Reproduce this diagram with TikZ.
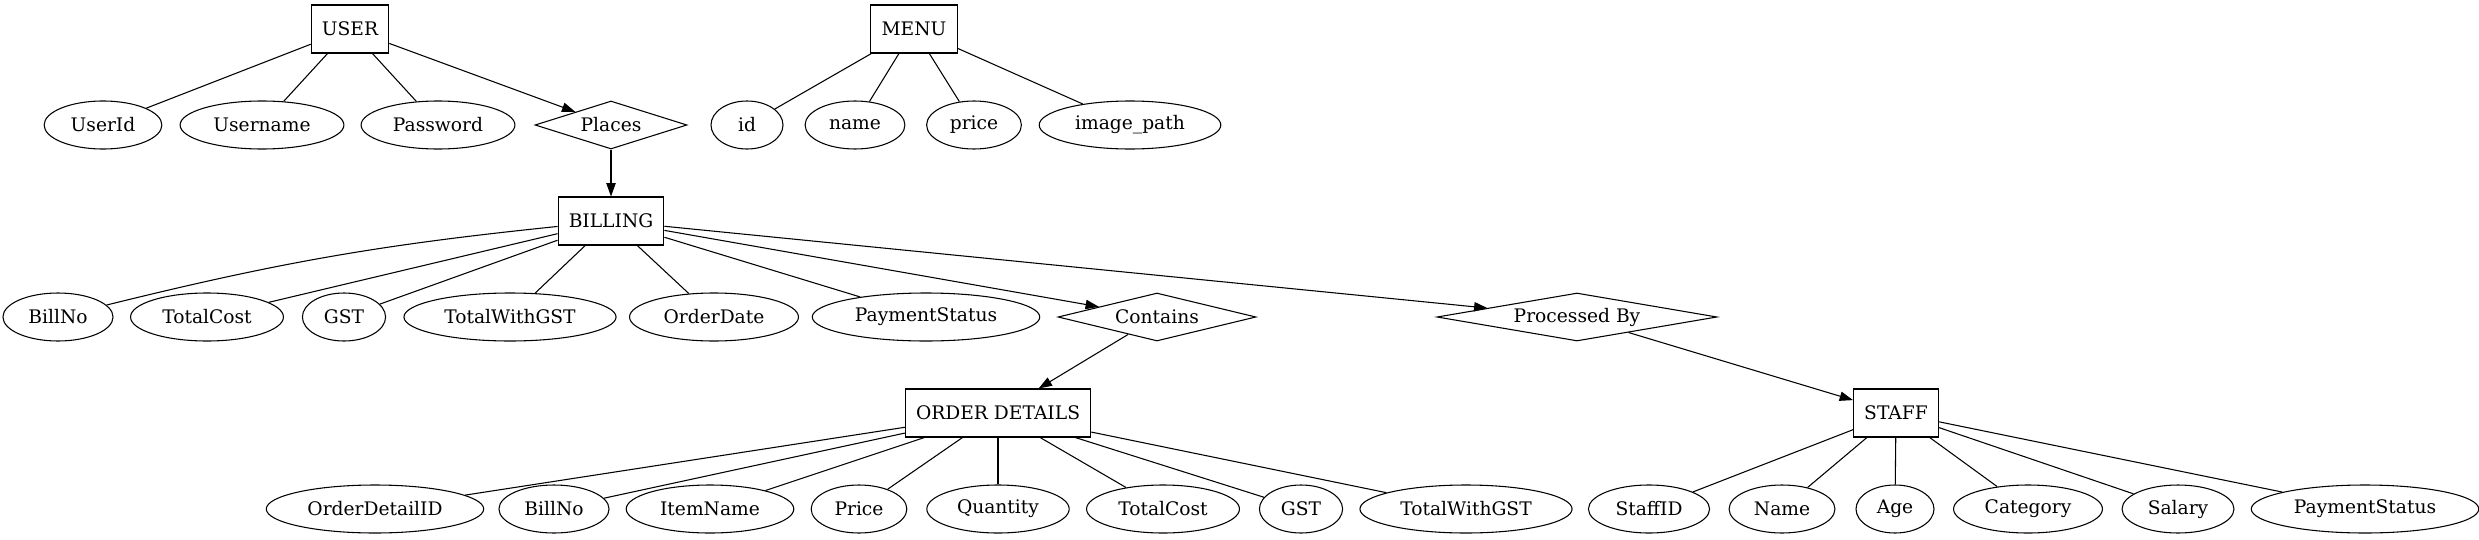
\documentclass[tikz,border=0pt]{standalone}
\usepackage{fontspec}
\setmainfont{DejaVu Serif}
\usetikzlibrary{shapes.geometric,arrows.meta}
\newcommand{\entity}{\node[entitybox]}
\newcommand{\attrib}{\node[attribute]}
\newcommand{\relship}{\node[relation]}
\tikzset{
  entitybox/.style={shape=rectangle, draw=black, minimum width=54pt, minimum height=36pt, inner xsep=8pt},
  attribute/.style={shape=ellipse, draw=black, minimum width=54pt, minimum height=36pt, inner xsep=7pt, inner ysep=2pt},
  relation/.style={shape=diamond, draw=black, minimum height=36pt, inner sep=0pt},
  reltip/.style={-{Triangle[length=10pt,width=7pt]}}
}

\begin{document}
\begin{tikzpicture}[x=0.75pt, y=-0.75pt, line width=0.8pt, font=\fontsize{14}{17}\selectfont]
					\useasboundingbox (0,0) rectangle (2479,539);
					% entities
					\entity (user) at (350,29) {USER};
					\entity (menu) at (914,29) {MENU};
					\entity (billing) at (611,221) {BILLING};
					\entity (orderdet) at (998,413) {ORDER DETAILS};
					\entity (staff) at (1896,413) {STAFF};
					% relationships
					\relship[minimum width=114pt, aspect=3.17] (places) at (611,125) {Places};
					\relship[minimum width=148.5pt, aspect=4.12] (contains) at (1157,317) {Contains};
					\relship[minimum width=210pt, aspect=5.83] (procby) at (1577,317) {Processed By};
					% user attributes
					\attrib (userid) at (103,125) {UserId};
					\attrib (username) at (262,125) {Username};
					\attrib (password) at (438,125) {Password};
					% menu attributes
					\attrib (mid) at (747,125) {id};
					\attrib (mname) at (855,125) {name};
					\attrib (mprice) at (974,125) {price};
					\attrib (mimage) at (1130,125) {image\_path};
					% billing attributes
					\attrib (bbillno) at (58,317) {BillNo};
					\attrib (btotal) at (207,317) {TotalCost};
					\attrib (bgst) at (344,317) {GST};
					\attrib (btotgst) at (510,317) {TotalWithGST};
					\attrib (bdate) at (714,317) {OrderDate};
					\attrib (bpay) at (926,317) {PaymentStatus};
					% order details attributes
					\attrib (odid) at (375,509) {OrderDetailID};
					\attrib (obillno) at (554,509) {BillNo};
					\attrib (oitem) at (710,509) {ItemName};
					\attrib (oprice) at (859,509) {Price};
					\attrib (oqty) at (998,509) {Quantity};
					\attrib (ototal) at (1163,509) {TotalCost};
					\attrib (ogst) at (1301,509) {GST};
					\attrib (ototgst) at (1466,509) {TotalWithGST};
					% staff attributes
					\attrib (sid) at (1649,509) {StaffID};
					\attrib (sname) at (1782,509) {Name};
					\attrib (sage) at (1895,509) {Age};
					\attrib (scat) at (2028,509) {Category};
					\attrib (ssal) at (2178,509) {Salary};
					\attrib (spay) at (2365,509) {PaymentStatus};
					% connectors
					\path (user) edge (userid) edge (username) edge (password) edge[reltip] (places);
					\path (menu) edge (mid) edge (mname) edge (mprice) edge (mimage);
					\path (places) edge[reltip] (billing);
					\path (billing) edge[bend right=4] (bbillno) edge (btotal) edge (bgst) edge (btotgst) edge (bdate) edge (bpay);
					\path (billing) edge[reltip] (contains) edge[reltip] (procby);
					\path (contains) edge[reltip] (orderdet);
					\path (procby) edge[reltip] (staff);
					\path (orderdet) edge (odid) edge (obillno) edge (oitem) edge (oprice) edge (oqty) edge (ototal) edge (ogst) edge (ototgst);
					\path (staff) edge (sid) edge (sname) edge (sage) edge (scat) edge (ssal) edge (spay);
				\end{tikzpicture}
\end{document}
